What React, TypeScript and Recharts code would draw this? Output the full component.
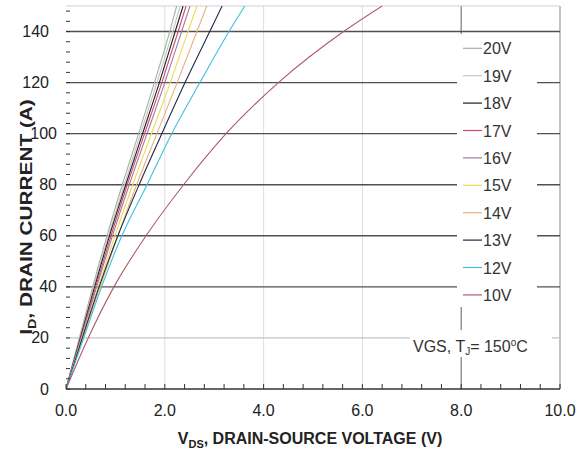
import * as React from 'react';
import { CartesianGrid, Customized, Line, LineChart, XAxis, YAxis } from 'recharts';

// I_D points (A) shared by every curve; each gate voltage has its V_DS readings
const drainCurrent = [0, 20, 40, 60, 80, 100, 120, 140, 150];

const vds20 = [0, 0.27, 0.54, 0.83, 1.14, 1.47, 1.79, 2.1, 2.24];
const vds19 = [0, 0.28, 0.56, 0.86, 1.18, 1.51, 1.84, 2.16, 2.31];
const vds18 = [0, 0.29, 0.58, 0.88, 1.21, 1.55, 1.89, 2.21, 2.37];
const vds17 = [0, 0.3, 0.6, 0.91, 1.24, 1.59, 1.94, 2.27, 2.43];
const vds16 = [0, 0.31, 0.62, 0.94, 1.28, 1.64, 2.0, 2.34, 2.51];
const vds15 = [0, 0.32, 0.65, 0.99, 1.35, 1.73, 2.11, 2.47, 2.65];
const vds14 = [0, 0.34, 0.69, 1.05, 1.43, 1.84, 2.25, 2.65, 2.85];
const vds13 = [0, 0.33, 0.67, 1.05, 1.48, 1.94, 2.41, 2.91, 3.16];
const vds12 = [0, 0.36, 0.72, 1.13, 1.64, 2.14, 2.71, 3.3, 3.62];
const vds10 = [0, 0.45, 0.97, 1.62, 2.38, 3.24, 4.3, 5.62, 6.4];

const gateLabels = ['20V', '19V', '18V', '17V', '16V', '15V', '14V', '13V', '12V', '10V'];
const gateCurves = [vds20, vds19, vds18, vds17, vds16, vds15, vds14, vds13, vds12, vds10];

const xMajorTicks = [0, 2, 4, 6, 8, 10];
const xTickLabels = ['0.0', '2.0', '4.0', '6.0', '8.0', '10.0'];
const yMajorTicks = [0, 20, 40, 60, 80, 100, 120, 140];
const yTickLabels = ['0', '20', '40', '60', '80', '100', '120', '140'];

const curveColors: Record<string, string> = {
  '20V': '#9fb49a',
  '19V': '#c4c4c4',
  '18V': '#1e1e1e',
  '17V': '#d2486e',
  '16V': '#a07aa0',
  '15V': '#f2d94e',
  '14V': '#e9b07c',
  '13V': '#1f2a4a',
  '12V': '#3fbfe0',
  '10V': '#b05a6a',
};

// minor tick marks: 5 per major division
const xMinorTicks = Array.from({ length: 26 }, (_, k) => Math.round(k * 4) / 10);
const yMinorTicks = Array.from({ length: 38 }, (_, k) => k * 4);

const FONT = '"Liberation Sans", Arial, Helvetica, sans-serif';
const TEXT = '#222';

function XTick({ x, y, payload }: any) {
  const idx = xMajorTicks.indexOf(payload.value);
  return (
    <g>
      <line x1={x} y1={y} x2={x} y2={y - 5} stroke="#333" strokeWidth={1} />
      {idx >= 0 && (
        <text x={x} y={y + 27} textAnchor="middle" fontSize={16} fill={TEXT} fontFamily={FONT}>
          {xTickLabels[idx]}
        </text>
      )}
    </g>
  );
}

function YTick({ x, y, payload }: any) {
  const idx = yMajorTicks.indexOf(payload.value);
  // labels beside the rotated title sit a little further right
  const nudge = payload.value >= 40 && payload.value <= 100 ? 8 : 0;
  return (
    <g>
      <line x1={x} y1={y} x2={x + 4} y2={y} stroke="#333" strokeWidth={1} />
      {idx >= 0 && (
        <text x={x - 17 + nudge} y={y + 5.5} textAnchor="end" fontSize={16} fill={TEXT} fontFamily={FONT}>
          {yTickLabels[idx]}
        </text>
      )}
    </g>
  );
}

function Overlay() {
  return (
    <g fontFamily={FONT}>
      {/* axis titles */}
      <g transform="translate(32,217) rotate(-90) scale(1.3,1)">
        <text x={0} y={0} textAnchor="middle" fontSize={16} fontWeight="bold" fill={TEXT}>
          I<tspan fontSize={11} dy={4}>D</tspan>
          <tspan dy={-4}>, DRAIN CURRENT (A)</tspan>
        </text>
      </g>
      <text x={310} y={444} textAnchor="middle" fontSize={16} fontWeight="bold" fill={TEXT}>
        V<tspan fontSize={11} dy={4}>DS</tspan>
        <tspan dy={-4}>, DRAIN-SOURCE VOLTAGE (V)</tspan>
      </text>

      {/* legend */}
      <rect x={457} y={34} width={80} height={273} fill="#fff" />
      {gateLabels.map((name, k) => {
        const cy = 48.3 + k * 27.4;
        return (
          <g key={name}>
            <line x1={463} y1={cy} x2={482} y2={cy} stroke={curveColors[name]} strokeWidth={1.2} />
            <text x={483} y={cy + 6} fontSize={16} fill="#333">
              {name}
            </text>
          </g>
        );
      })}

      {/* test condition */}
      <rect x={410} y={330} width={142} height={27} fill="#fff" />
      <text x={413} y={351.5} fontSize={16} fill="#333">
        VGS, T<tspan fontSize={10} dy={3}>J</tspan>
        <tspan dy={-3}>= 150</tspan>
        <tspan fontSize={10} dy={-6}>o</tspan>
        <tspan dy={6}>C</tspan>
      </text>
    </g>
  );
}

export default function App() {
  return (
    <div style={{ position: 'absolute', left: 0, top: 0, fontFamily: FONT }}>
      <LineChart width={576} height={459} margin={{ top: 6, right: 16, left: 0, bottom: 0 }}>
        <CartesianGrid horizontal={false} verticalValues={[2, 4, 6]} stroke="#dedede" strokeWidth={1} />
        <CartesianGrid horizontal={false} verticalValues={[8]} stroke="#7a7a7a" strokeWidth={1.2} />
        <CartesianGrid horizontal={false} verticalValues={[10]} stroke="#9a9a9a" strokeWidth={1.2} />
        <CartesianGrid vertical={false} horizontalValues={[20]} stroke="#c4c4c4" strokeWidth={1.3} />
        <CartesianGrid vertical={false} horizontalValues={[40, 60, 80, 100, 120, 140]} stroke="#505050" strokeWidth={1.4} />
        <CartesianGrid vertical={false} horizontalValues={[150]} stroke="#cfcfcf" strokeWidth={1} />
        <XAxis
          type="number"
          dataKey="v"
          domain={[0, 10]}
          ticks={xMinorTicks}
          interval={0}
          height={70}
          tickSize={0}
          tickMargin={0}
          tickLine={false}
          axisLine={{ stroke: '#333', strokeWidth: 1.3 }}
          tick={<XTick />}
          allowDataOverflow
        />
        <YAxis
          type="number"
          dataKey="i"
          domain={[0, 150]}
          ticks={yMinorTicks}
          interval={0}
          width={66}
          tickSize={0}
          tickMargin={0}
          tickLine={false}
          axisLine={false}
          tick={<YTick />}
          allowDataOverflow
        />
        {gateLabels.map((name, k) => (
          <Line
            key={name}
            data={drainCurrent.map((i, n) => ({ v: gateCurves[k][n], i }))}
            dataKey="i"
            name={name}
            type="monotone"
            stroke={curveColors[name]}
            strokeWidth={1.1}
            dot={false}
            isAnimationActive={false}
          />
        ))}
        <Customized component={<Overlay />} />
      </LineChart>
    </div>
  );
}
